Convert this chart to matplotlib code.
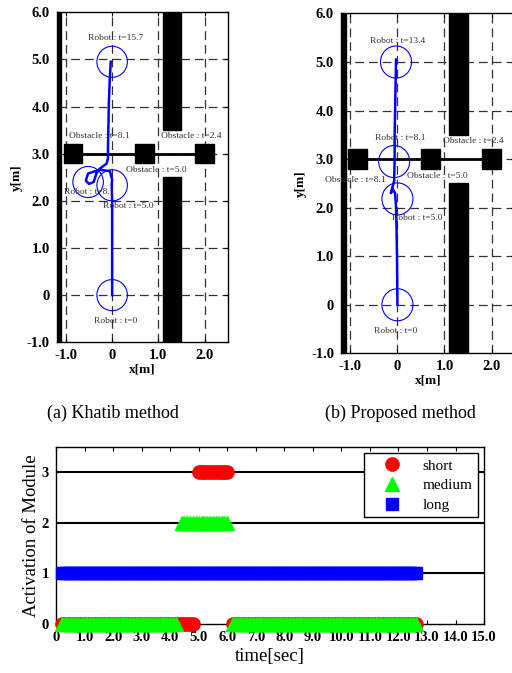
import numpy as np
import matplotlib
matplotlib.use("Agg")
import matplotlib.pyplot as plt
from matplotlib.patches import Rectangle, Circle
from matplotlib.lines import Line2D

plt.rcParams['font.family'] = ['Liberation Serif', 'DejaVu Serif']

# ---------------- data ----------------
# (a) Khatib method trajectory
khatib_x = [0.0, 0.0, 0.0, -0.01, 0.0, -0.05, -0.27, -0.52, -0.57, -0.50, -0.40, -0.34, -0.27, -0.12, -0.09, -0.09, -0.07, -0.05, -0.03]
khatib_y = [0.0, 1.0, 2.0, 2.35, 2.45, 2.63, 2.66, 2.58, 2.43, 2.36, 2.40, 2.58, 2.68, 2.79, 2.90, 3.10, 4.13, 4.60, 4.95]
khatib_robot_x = [0.0, 0.0, -0.52, 0.0]
khatib_robot_y = [0.0, 2.33, 2.40, 4.95]
khatib_labels = ["Robot : t=0", "Robot : t=5.0", "Robot : t=8.1", "Robot : t=15.7",
                 "Obstacle : t=8.1", "Obstacle : t=2.4", "Obstacle : t=5.0"]
khatib_label_xy = [(0.08, -0.54), (0.34, 1.89), (-0.5, 2.19), (0.08, 5.46),
                   (-0.27, 3.37), (1.71, 3.37), (0.95, 2.66)]

# (b) Proposed method trajectory
prop_x = [0.0, -0.01, -0.02, -0.03, -0.05, -0.10, -0.14, -0.12, -0.07, -0.06, -0.06, -0.05, -0.03]
prop_y = [0.0, 1.0, 1.6, 2.0, 2.3, 2.38, 2.30, 2.37, 2.55, 3.0, 3.5, 4.0, 5.05]
prop_robot_x = [0.0, 0.0, -0.07, -0.03]
prop_robot_y = [0.0, 2.18, 2.95, 5.0]
prop_labels = ["Robot : t=0", "Robot : t=5.0", "Robot : t=8.1", "Robot : t=13.4",
               "Obstacle : t=8.1", "Obstacle : t=2.4", "Obstacle : t=5.0"]
prop_label_xy = [(-0.04, -0.53), (0.42, 1.78), (0.07, 3.43), (0.0, 5.43),
                 (-0.89, 2.57), (1.61, 3.38), (0.85, 2.66)]

# environment
obstacle_x = [-0.85, 0.7, 2.0]
obstacle_y = [3.0, 3.0, 3.0]
obstacle_size = 0.4
robot_radius = 0.33
walls = [(-1.2, -1.0, 0.1, 7.0), (1.1, -1.0, 0.4, 3.5), (1.1, 3.5, 0.4, 2.5)]  # x, y, w, h
xticks_top = [-1.0, 0.0, 1.0, 2.0]
xtick_labels_top = ["-1.0", "0", "1.0", "2.0"]
yticks_top = [-1.0, 0.0, 1.0, 2.0, 3.0, 4.0, 5.0, 6.0]
ytick_labels_top = ["-1.0", "0", "1.0", "2.0", "3.0", "4.0", "5.0", "6.0"]

# (c) activation of modules: (start, end, level) segments, sampled every 0.1 s
sample_step = 0.1
short_segments = [(0.2, 4.8, 0), (5.0, 6.0, 3), (6.2, 12.6, 0)]
medium_segments = [(0.2, 4.2, 0), (4.4, 6.0, 2), (6.2, 12.6, 0)]
long_segments = [(0.2, 12.6, 1)]
time_ticks = list(np.arange(0, 16, 1.0))
time_tick_labels = ["0"] + ["%.1f" % t for t in time_ticks[1:]]


def sample(segments):
    ts, vs = [], []
    for s, e, v in segments:
        t = np.arange(s, e + 1e-6, sample_step)
        ts.extend(t)
        vs.extend([v] * len(t))
    return np.array(ts), np.array(vs)


# ---------------- figure ----------------
fig = plt.figure(figsize=(5.12, 6.73), dpi=100)

ax1 = fig.add_axes([0.1107, 0.4914, 0.334, 0.4903])
ax2 = fig.add_axes([0.666, 0.475, 0.340, 0.505])
ax3 = fig.add_axes([0.1094, 0.0728, 0.836, 0.2634])


def draw_map(ax, px, py, rx, ry, labels, label_xy):
    ax.set_xlim(-1.2, 2.5)
    ax.set_ylim(-1.0, 6.0)
    for g in xticks_top:
        ax.axvline(g, color='0.2', lw=0.9, dashes=(7, 4), zorder=1)
    for g in [0, 1, 2, 3, 4, 5]:
        ax.axhline(g, color='0.2', lw=0.9, dashes=(7, 4), zorder=1)
    for (x, y, w, h) in walls:
        ax.add_patch(Rectangle((x, y), w, h, color='black', zorder=3))
    ax.plot([obstacle_x[0], obstacle_x[-1]], [obstacle_y[0], obstacle_y[-1]], color='black', lw=2, zorder=3)
    for ox, oy in zip(obstacle_x, obstacle_y):
        ax.add_patch(Rectangle((ox - obstacle_size / 2, oy - obstacle_size / 2), obstacle_size, obstacle_size,
                               color='black', zorder=4))
    for cx, cy in zip(rx, ry):
        ax.add_patch(Circle((cx, cy), robot_radius, fill=False, edgecolor='blue', lw=0.8, zorder=5))
    ax.plot(px, py, color='blue', lw=1.8, zorder=6)
    for lab, (tx, ty) in zip(labels, label_xy):
        ax.text(tx, ty, lab, fontsize=6.8, color='#333333', ha='center', va='center', zorder=7)
    ax.set_xticks(xticks_top)
    ax.set_xticklabels(xtick_labels_top)
    ax.set_yticks(yticks_top)
    ax.set_yticklabels(ytick_labels_top)
    ax.tick_params(direction='in', top=True, right=True, length=3, labelsize=10.5, pad=5)
    for lab in ax.get_xticklabels() + ax.get_yticklabels():
        lab.set_fontweight('bold')
    ax.set_xlabel('x[m]', fontsize=9.5, fontweight='bold', labelpad=1)
    ax.set_ylabel('y[m]', fontsize=9.5, fontweight='bold', labelpad=3)
    for s in ax.spines.values():
        s.set_linewidth(1.0)


draw_map(ax1, khatib_x, khatib_y, khatib_robot_x, khatib_robot_y, khatib_labels, khatib_label_xy)
draw_map(ax2, prop_x, prop_y, prop_robot_x, prop_robot_y, prop_labels, prop_label_xy)

fig.text(0.221, 0.386, '(a) Khatib method', fontsize=13, ha='center', va='center')
fig.text(0.783, 0.386, '(b) Proposed method', fontsize=13, ha='center', va='center')

# bottom chart
ax3.set_xlim(0, 15)
ax3.set_ylim(0, 3.5)
for lvl in [1, 2, 3]:
    ax3.axhline(lvl, color='black', lw=1.5, zorder=1)
st, sv = sample(short_segments)
mt, mv = sample(medium_segments)
lt, lv = sample(long_segments)
ax3.plot(st, sv, 'o', color='red', ms=9.5, mec='red', clip_on=False, zorder=3)
ax3.plot(mt, mv, '^', color='#00ff00', ms=9.5, mec='#00ff00', clip_on=False, zorder=4)
ax3.plot(lt, lv, 's', color='blue', ms=9, mec='blue', clip_on=False, zorder=3)
ax3.set_xticks(time_ticks)
ax3.set_xticklabels(time_tick_labels)
ax3.set_yticks([0, 1, 2, 3])
ax3.tick_params(direction='in', top=True, right=True, length=3, labelsize=10.5, pad=5)
for lab in ax3.get_xticklabels() + ax3.get_yticklabels():
    lab.set_fontweight('bold')
ax3.set_xlabel('time[sec]', fontsize=13.5, labelpad=3)
ax3.set_ylabel('Activation of Module', fontsize=13.5, labelpad=1)
for s in ax3.spines.values():
    s.set_linewidth(1.0)

handles = [Line2D([], [], marker='o', color='red', ls='none', ms=9.5),
           Line2D([], [], marker='^', color='#00ff00', ls='none', ms=9.5),
           Line2D([], [], marker='s', color='blue', ls='none', ms=9)]
leg = ax3.legend(handles, ['short', 'medium', 'long'], loc='upper right', fontsize=11,
                 fancybox=False, edgecolor='black', framealpha=1,
                 handlelength=3.0, handletextpad=0.5,
                 borderpad=0.35, labelspacing=0.4, borderaxespad=0,
                 bbox_to_anchor=(0.986, 0.962))
leg.get_frame().set_linewidth(1.0)

fig.savefig('out.png', dpi=100)
